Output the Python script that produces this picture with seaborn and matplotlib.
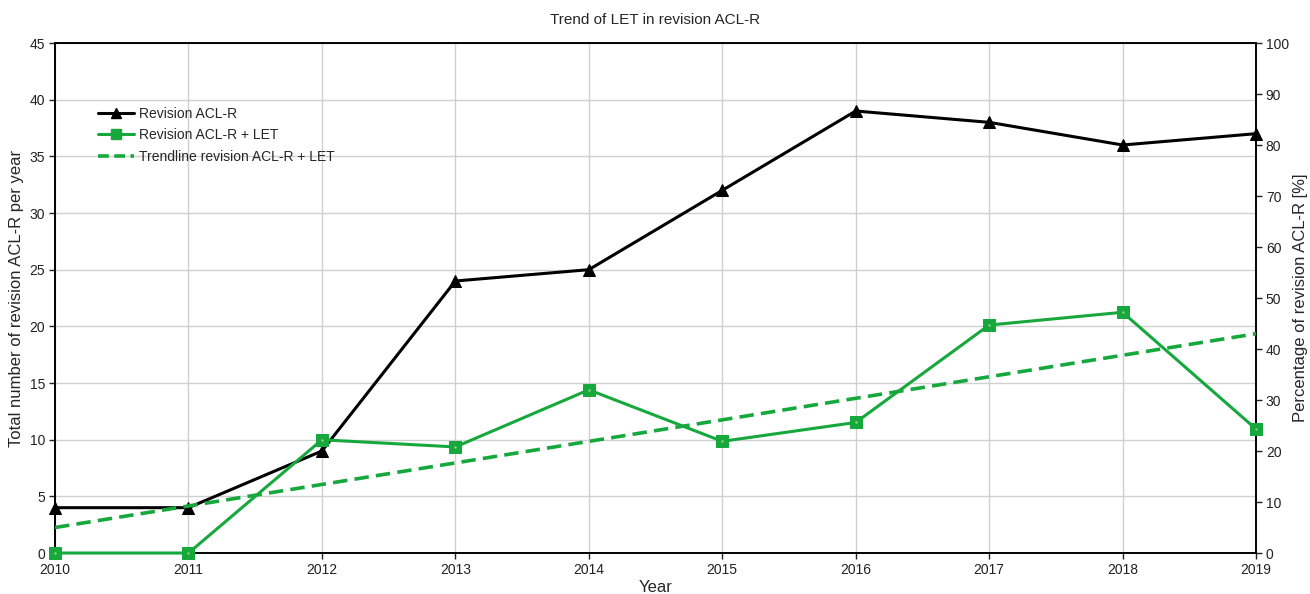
import pandas as pd
import numpy as np
import seaborn as sns
import matplotlib.pyplot as plt
from matplotlib.lines import Line2D

# === Data ===
years = [2010, 2011, 2012, 2013, 2014, 2015, 2016, 2017, 2018, 2019]
revision_total = [4, 4, 9, 24, 25, 32, 39, 38, 36, 37]
let_percent = [0, 0, 22.2, 20.8, 32.0, 21.9, 25.6, 44.7, 47.2, 24.3]
trend_years = [2010, 2019]
trend_percent = [5.0, 43.0]

GREEN = "#17a83d"

sns.set_theme(style="white")
plt.rcParams["font.family"] = ["Liberation Sans", "DejaVu Sans"]

df_rev = pd.DataFrame({"Year": years, "Total": revision_total})
df_let = pd.DataFrame({"Year": years, "Pct": let_percent})
df_trend = pd.DataFrame({"Year": trend_years, "Pct": trend_percent})

fig = plt.figure(figsize=(13.1, 5.94), dpi=100)
ax = fig.add_axes([0.042, 0.069, 0.9168, 0.8586])
ax2 = ax.twinx()

# left axis: totals
sns.lineplot(data=df_rev, x="Year", y="Total", ax=ax, color="black", lw=2.2,
             marker="^", markersize=8, markeredgecolor="black", zorder=5,
             clip_on=False)
ax.set_xlim(2010, 2019)
ax.set_ylim(0, 45)
ax.set_yticks(np.arange(0, 46, 5))
ax.set_xticks(years)
ax.grid(True, color="#d0d0d0", lw=1)
ax.set_xlabel("Year", fontsize=12, labelpad=2)
ax.set_ylabel("Total number of revision ACL-R per year", fontsize=12, labelpad=4)
ax.tick_params(axis="both", labelsize=10, length=4, width=1, direction="out",
               left=True, bottom=True, colors="#222222", pad=3)

# right axis: percentages
sns.lineplot(data=df_trend, x="Year", y="Pct", ax=ax2, color=GREEN, lw=2.6,
             linestyle=(0, (4, 2)), zorder=3)
sns.lineplot(data=df_let, x="Year", y="Pct", ax=ax2, color=GREEN, lw=2.2,
             marker="s", markersize=8, markeredgecolor=GREEN, zorder=4,
             clip_on=False)
# small light centre dot like the original markers
ax2.scatter(years, let_percent, s=3, color="#9ad07a", zorder=6, clip_on=False,
            linewidths=0)
ax2.set_ylim(0, 100)
ax2.set_yticks(np.arange(0, 101, 10))
ax2.set_ylabel("Percentage of revision ACL-R [%]", fontsize=12, labelpad=3)
ax2.tick_params(axis="y", labelsize=10, length=4, width=1, direction="out",
                right=True, colors="#222222", pad=3)
ax2.grid(False)

for a in (ax, ax2):
    for s in a.spines.values():
        s.set_color("black")
        s.set_linewidth(1.2)

ax.set_title("Trend of LET in revision ACL-R", fontsize=11, pad=14)

handles = [
    Line2D([], [], color="black", lw=2.2, marker="^", markersize=7),
    Line2D([], [], color=GREEN, lw=2.2, marker="s", markersize=7),
    Line2D([], [], color=GREEN, lw=2.6, linestyle=(0, (3, 1.5))),
]
labels = ["Revision ACL-R", "Revision ACL-R + LET", "Trendline revision ACL-R + LET"]
ax2.legend(handles, labels, loc="upper left", bbox_to_anchor=(0.025, 0.9),
           frameon=False, fontsize=10, handlelength=2.6, handletextpad=0.4,
           labelspacing=0.55)

plt.savefig("out.png", dpi=100)
